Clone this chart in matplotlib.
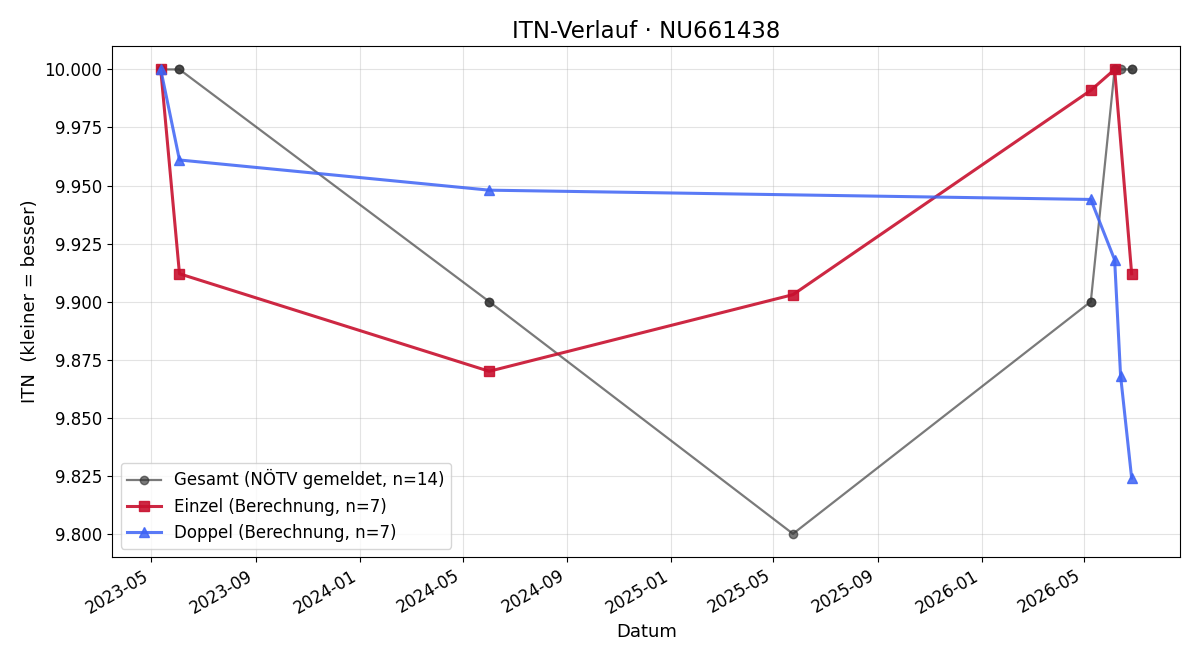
import matplotlib
matplotlib.use("Agg")
import matplotlib.pyplot as plt
import matplotlib.dates as mdates
import pandas as pd

gesamt_dates = ["2023-05-12", "2023-05-12", "2023-06-03", "2023-06-03", "2024-06-01", "2024-06-01",
                "2025-05-24", "2026-05-09", "2026-05-09", "2026-06-06", "2026-06-06", "2026-06-13",
                "2026-06-26", "2026-06-26"]
gesamt_vals = [10.0, 10.0, 10.0, 10.0, 9.9, 9.9, 9.8, 9.9, 9.9, 10.0, 10.0, 10.0, 10.0, 10.0]

einzel_dates = ["2023-05-12", "2023-06-03", "2024-06-01", "2025-05-24", "2026-05-09", "2026-06-06", "2026-06-26"]
einzel_vals = [10.0, 9.912, 9.870, 9.903, 9.991, 10.0, 9.912]

doppel_dates = ["2023-05-12", "2023-06-03", "2024-06-01", "2026-05-09", "2026-06-06", "2026-06-13", "2026-06-26"]
doppel_vals = [10.0, 9.961, 9.948, 9.944, 9.918, 9.868, 9.824]

fig, ax = plt.subplots(figsize=(12, 6.6), dpi=100)

ax.plot(pd.to_datetime(gesamt_dates), gesamt_vals, marker="o", color="#333333", alpha=0.65,
        linewidth=1.6, markersize=6, label="Gesamt (NÖTV gemeldet, n=14)")
ax.plot(pd.to_datetime(einzel_dates), einzel_vals, marker="s", color="#c8102e", alpha=0.9,
        linewidth=2.2, markersize=7, label="Einzel (Berechnung, n=7)")
ax.plot(pd.to_datetime(doppel_dates), doppel_vals, marker="^", color="#3d63f5", alpha=0.85,
        linewidth=2.2, markersize=7, label="Doppel (Berechnung, n=7)")

ax.set_title("ITN-Verlauf · NU661438", fontsize=16.5)
ax.set_xlabel("Datum", fontsize=13)
ax.set_ylabel("ITN  (kleiner = besser)", fontsize=13)
ax.grid(True, alpha=0.35)
ax.xaxis.set_major_locator(mdates.MonthLocator(bymonth=[1, 5, 9]))
ax.xaxis.set_major_formatter(mdates.DateFormatter("%Y-%m"))
ax.tick_params(labelsize=12)
ax.yaxis.set_major_formatter(matplotlib.ticker.FormatStrFormatter("%.3f"))
ax.set_ylim(9.79, 10.01)
fig.autofmt_xdate()
fig.subplots_adjust(left=0.0935, right=0.9835, top=0.930, bottom=0.156)
ax.legend(loc="lower left", fontsize=12)
fig.savefig("out.png")
